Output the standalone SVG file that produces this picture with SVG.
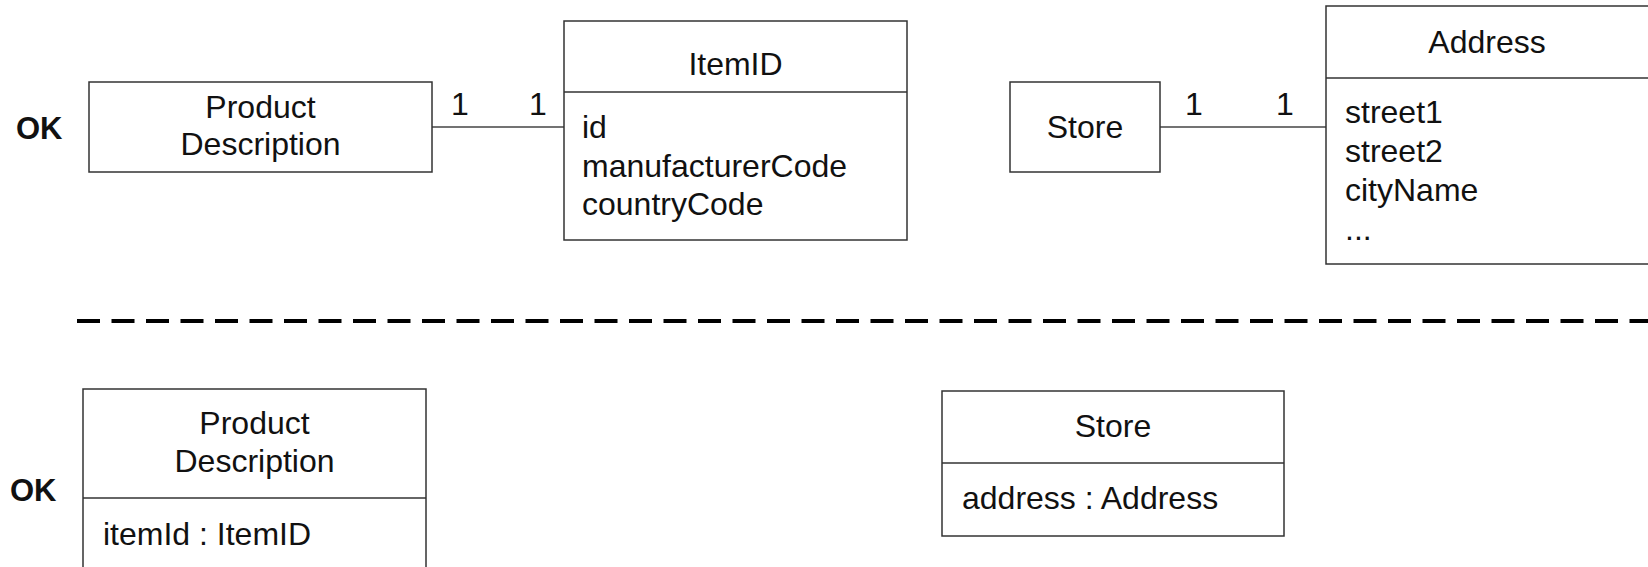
<svg xmlns="http://www.w3.org/2000/svg" width="1648" height="567" viewBox="0 0 1648 567">
<style>
.box{fill:#fff;stroke:#333;stroke-width:1.5}
.div{stroke:#333;stroke-width:1.5}
.t{font-family:"Liberation Sans",Arial,sans-serif;font-size:32px;fill:#111}
.c{text-anchor:middle}
.ok{font-family:"Liberation Sans",Arial,sans-serif;font-size:31px;font-weight:bold;fill:#111}
.conn{stroke:#444;stroke-width:1.5;fill:none}
</style>
<rect width="1648" height="567" fill="#fff"/>
<text class="ok" x="16" y="139">OK</text>
<text class="ok" x="10" y="501">OK</text>
<line x1="77" y1="321" x2="1648" y2="321" stroke="#000" stroke-width="4" stroke-dasharray="23 11.5"/>
<g id="connectors">
<line class="conn" x1="432" y1="127" x2="564" y2="127"/>
<line class="conn" x1="1160" y1="127" x2="1326" y2="127"/>
<text class="t c" x="460" y="115">1</text>
<text class="t c" x="538" y="115">1</text>
<text class="t c" x="1194" y="115">1</text>
<text class="t c" x="1285" y="115">1</text>
</g>
<g id="product-description-top">
<rect class="box" x="89" y="82" width="343" height="90"/>
<text class="t c" x="260.5" y="118">Product</text>
<text class="t c" x="260.5" y="155">Description</text>
</g>
<g id="itemid">
<rect class="box" x="564" y="21" width="343" height="219"/>
<line class="div" x1="564" y1="92" x2="907" y2="92"/>
<text class="t c" x="735.5" y="75">ItemID</text>
<text class="t" x="582" y="138">id</text>
<text class="t" x="582" y="177">manufacturerCode</text>
<text class="t" x="582" y="215">countryCode</text>
</g>
<g id="store-top">
<rect class="box" x="1010" y="82" width="150" height="90"/>
<text class="t c" x="1085" y="138">Store</text>
</g>
<g id="address">
<rect class="box" x="1326" y="6" width="330" height="258"/>
<line class="div" x1="1326" y1="78" x2="1656" y2="78"/>
<text class="t c" x="1487" y="53">Address</text>
<text class="t" x="1345" y="123">street1</text>
<text class="t" x="1345" y="162">street2</text>
<text class="t" x="1345" y="201">cityName</text>
<text class="t" x="1345" y="240">...</text>
</g>
<g id="product-description-bottom">
<rect class="box" x="83" y="389" width="343" height="200"/>
<line class="div" x1="83" y1="498" x2="426" y2="498"/>
<text class="t c" x="254.5" y="434">Product</text>
<text class="t c" x="254.5" y="472">Description</text>
<text class="t" x="103" y="545">itemId : ItemID</text>
</g>
<g id="store-bottom">
<rect class="box" x="942" y="391" width="342" height="145"/>
<line class="div" x1="942" y1="463" x2="1284" y2="463"/>
<text class="t c" x="1113" y="437">Store</text>
<text class="t" x="962" y="509">address : Address</text>
</g>
</svg>
